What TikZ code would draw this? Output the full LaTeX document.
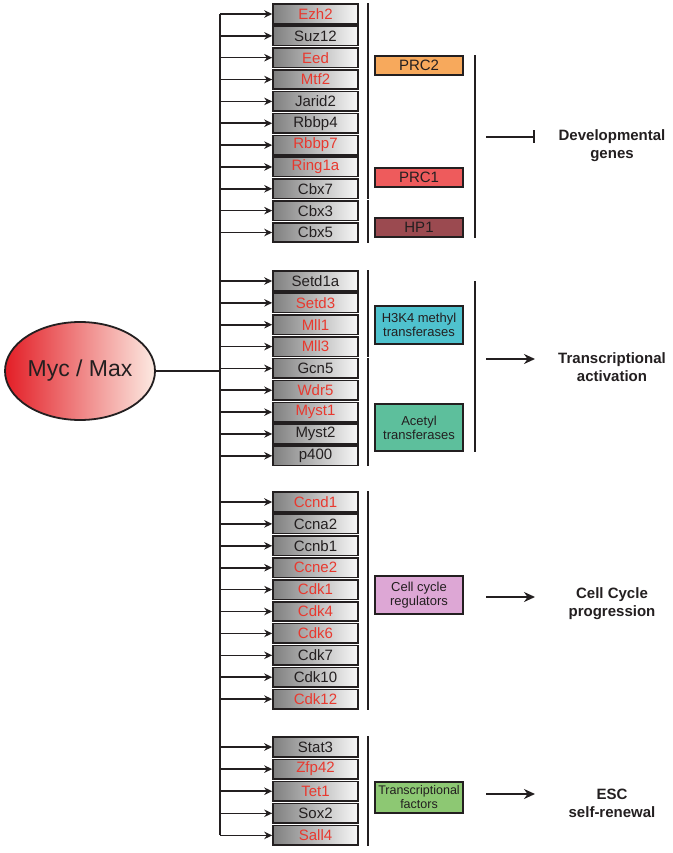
\documentclass[tikz,border=0pt]{standalone}
\usepackage{fontspec}
\setmainfont{Liberation Sans}
\usetikzlibrary{arrows.meta,shapes.geometric}

\definecolor{ink}{HTML}{231F20}
\definecolor{textred}{HTML}{E8392F}
\definecolor{textblk}{HTML}{231F20}
\definecolor{mycred}{HTML}{E31E26}
\definecolor{mycmid}{HTML}{EC5444}
\definecolor{mycpale}{HTML}{FCEAE2}
\definecolor{prctwo}{HTML}{F7A95C}
\definecolor{prcone}{HTML}{EE5B5C}
\definecolor{hpone}{HTML}{9B4A50}
\definecolor{hkfour}{HTML}{4FC2CE}
\definecolor{acetyl}{HTML}{5DBF9C}
\definecolor{cellcyc}{HTML}{DDA7D5}
\definecolor{tfac}{HTML}{8DC873}

\tikzset{
  gene/.style={draw=ink, line width=1.6pt, left color=black!50, right color=black!3,
    minimum width=85pt, minimum height=19.5pt, inner sep=0pt,
    font=\fontsize{15}{15}\selectfont},
  grp/.style={draw=ink, line width=1.6pt, minimum width=88pt, inner sep=0pt,
    align=center, text=textblk},
  feed/.style={->, line width=1.6pt, draw=ink},
  brace/.style={line width=2pt, draw=ink},
  outcome/.style={font=\bfseries\fontsize{15}{18}\selectfont, align=center, text=textblk}
}

\begin{document}
\begin{tikzpicture}[x=1pt, y=-1pt, >={Stealth[length=8pt,width=7.5pt]}]
\useasboundingbox (0,0) rectangle (672,853);
%\draw[step=50,gray,very thin] (0,0) grid (672,853);
\node[ellipse, draw=ink, line width=1.8pt, left color=mycred, middle color=mycmid,
  right color=mycpale, minimum width=150pt, minimum height=98pt, inner sep=0pt,
  font=\fontsize{23}{23}\selectfont, text=textblk] (myc) at (80,371) {Myc / Max};
\coordinate (hub) at (220,371);
\draw[line width=1.6pt, draw=ink] (myc) -- (hub);

% gene boxes
\foreach \nm/\cl [count=\i from 0] in {Ezh2/red,Suz12/blk,Eed/red,Mtf2/red,Jarid2/blk,
  Rbbp4/blk,Rbbp7/red,Ring1a/red,Cbx7/blk,Cbx3/blk,Cbx5/blk}{
  \node[gene, text=text\cl] (g-\nm) at (315.5,{14+21.85*\i}) {\nm};
  \coordinate (t-\nm) at (220,{14+21.85*\i});
  \draw[feed] (t-\nm) -- (g-\nm);
}
\foreach \nm/\cl [count=\i from 0] in {Setd1a/blk,Setd3/red,Mll1/red,Mll3/red,Gcn5/blk,
  Wdr5/red,Myst1/red,Myst2/blk,p400/blk}{
  \node[gene, text=text\cl] (g-\nm) at (315.5,{281+21.85*\i}) {\nm};
  \coordinate (t-\nm) at (220,{281+21.85*\i});
  \draw[feed] (t-\nm) -- (g-\nm);
}
\foreach \nm/\cl [count=\i from 0] in {Ccnd1/red,Ccna2/blk,Ccnb1/blk,Ccne2/red,Cdk1/red,
  Cdk4/red,Cdk6/red,Cdk7/blk,Cdk10/blk,Cdk12/red}{
  \node[gene, text=text\cl] (g-\nm) at (315.5,{502+21.9*\i}) {\nm};
  \coordinate (t-\nm) at (220,{502+21.9*\i});
  \draw[feed] (t-\nm) -- (g-\nm);
}
\foreach \nm/\cl [count=\i from 0] in {Stat3/blk,Zfp42/red,Tet1/red,Sox2/blk,Sall4/red}{
  \node[gene, text=text\cl] (g-\nm) at (315.5,{747+22.1*\i}) {\nm};
  \coordinate (t-\nm) at (220,{747+22.1*\i});
  \draw[feed] (t-\nm) -- (g-\nm);
}
\draw[line width=1.6pt, draw=ink] (t-Ezh2) -- (t-Sall4);

% complexes
\node[grp, fill=prctwo, minimum height=19pt, font=\fontsize{15}{15}\selectfont] (prc2) at (419,65.5) {PRC2};
\node[grp, fill=prcone, minimum height=19pt, font=\fontsize{15}{15}\selectfont] (prc1) at (419,177.5) {PRC1};
\node[grp, fill=hpone, minimum height=19pt, font=\fontsize{15}{15}\selectfont] (hp1) at (419,227.5) {HP1};
\node[grp, fill=hkfour, minimum height=38pt, font=\fontsize{13}{14}\selectfont] (h3k4) at (419,325) {H3K4 methyl\\transferases};
\node[grp, fill=acetyl, minimum height=47pt, font=\fontsize{13}{14}\selectfont] (acetyl) at (419,427.5) {Acetyl\\transferases};
\node[grp, fill=cellcyc, minimum height=38pt, font=\fontsize{13}{14}\selectfont] (cellcyc) at (419,595) {Cell cycle\\regulators};
\node[grp, fill=tfac, minimum height=31pt, font=\fontsize{12.5}{14}\selectfont] (tfac) at (419,797.5) {Transcriptional\\factors};

% brackets
\coordinate (col) at (368,0);
\coordinate (big) at (475,0);
\draw[brace] (col |- g-Ezh2.north) -- (col |- g-Rbbp7.south);
\draw[brace] (col |- g-Ring1a.north) -- (col |- g-Cbx7.south);
\draw[brace] (col |- g-Cbx3.north) -- (col |- g-Cbx5.south);
\draw[brace] (col |- g-Setd1a.north) -- (col |- g-Mll3.south);
\draw[brace] (col |- g-Gcn5.north) -- (col |- g-p400.south);
\draw[brace] (col |- g-Ccnd1.north) -- (col |- g-Cdk12.south);
\draw[brace] (col |- g-Stat3.north) -- (col |- g-Sall4.south);
\draw[brace] (big |- prc2.north) -- (big |- hp1.south);
\draw[brace] (big |- g-Setd1a) -- (big |- acetyl.south);

% outcomes
\coordinate (dev-s) at (486,137);
\coordinate (act-s) at (486,359);
\coordinate (cyc-s) at (486,597);
\coordinate (esc-s) at (486,794);
\draw[line width=2pt, draw=ink, -{Bar[width=13pt]}] (dev-s) -- ++(49,0);
\draw[line width=2pt, draw=ink, -{Stealth[length=11pt,width=10pt]}] (act-s) -- ++(49,0);
\draw[line width=2pt, draw=ink, -{Stealth[length=11pt,width=10pt]}] (cyc-s) -- ++(49,0);
\draw[line width=2pt, draw=ink, -{Stealth[length=11pt,width=10pt]}] (esc-s) -- ++(49,0);
\node[outcome] (dev) at (612,146) {Developmental\\genes};
\node[outcome] (act) at (612,367) {Transcriptional\\activation};
\node[outcome] (cyc) at (612,604) {Cell Cycle\\progression};
\node[outcome] (esc) at (612,803) {ESC\\self-renewal};
\end{tikzpicture}
\end{document}
